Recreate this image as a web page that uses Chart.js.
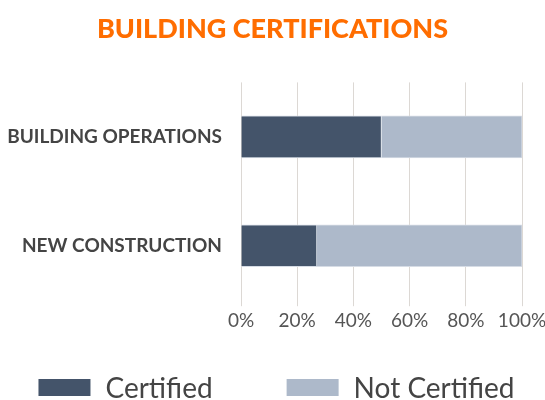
<!DOCTYPE html>
<html>
<head>
<meta charset="utf-8">
<script src="https://cdn.jsdelivr.net/npm/chart.js@4"></script>
<style>
    html, body { margin: 0; padding: 0; background: #ffffff; }
    #wrap { width: 545px; height: 400px; position: relative; }
</style>
</head>
<body>
<div id="wrap"><canvas id="cert-chart"></canvas></div>
<script>
const categories = ["BUILDING OPERATIONS", "NEW CONSTRUCTION"];
const certified = [50, 27];
const notCertified = [50, 73];
const seriesNames = ["Certified", "Not Certified"];
const seriesColors = ["#44546a", "#adb9ca"];

// legend drawn by hand so the wide gap between items doesn't blow up the legend height
const bottomLegend = {
    id: "bottomLegend",
    afterDraw(chart) {
        const c = chart.ctx;
        const boxW = 52, boxH = 17, gap = 15, spacing = 74;
        const cy = 387.5;
        c.save();
        c.font = "28px Lato";
        c.textBaseline = "middle";
        const items = chart.data.datasets.map(ds => ({
            text: ds.label,
            color: ds.backgroundColor,
            w: boxW + gap + c.measureText(ds.label).width
        }));
        const total = items.reduce((s, it) => s + it.w, 0) + spacing * (items.length - 1);
        let x = (chart.width - total) / 2 + 4;
        items.forEach(it => {
            c.fillStyle = it.color;
            c.fillRect(x, cy - boxH / 2, boxW, boxH);
            c.fillStyle = "#444444";
            c.fillText(it.text, x + boxW + gap, cy + 1);
            x += it.w + spacing;
        });
        c.restore();
    }
};

const ctx = document.getElementById("cert-chart").getContext("2d");

new Chart(ctx, {
    type: "bar",
    data: {
        labels: categories,
        datasets: [
            {
                label: seriesNames[0],
                data: certified,
                backgroundColor: seriesColors[0],
                borderColor: "#d6dce5",
                borderWidth: 1,
                barThickness: 42
            },
            {
                label: seriesNames[1],
                data: notCertified,
                backgroundColor: seriesColors[1],
                borderColor: "#d6dce5",
                borderWidth: 1,
                barThickness: 42
            }
        ]
    },
    plugins: [bottomLegend],
    options: {
        indexAxis: "y",
        responsive: true,
        maintainAspectRatio: false,
        animation: false,
        layout: {
            padding: { left: 0, right: 0, top: 0, bottom: 65 }
        },
        plugins: {
            title: {
                display: true,
                text: "BUILDING CERTIFICATIONS",
                color: "#ff6d00",
                font: { family: "Lato", size: 27, weight: "900" },
                padding: { top: 13, bottom: 37 }
            },
            legend: { display: false },
            tooltip: { enabled: false }
        },
        scales: {
            x: {
                stacked: true,
                min: 0,
                max: 100,
                afterFit: function (scale) {
                    scale.paddingRight = 23;
                },
                ticks: {
                    stepSize: 20,
                    color: "#555555",
                    padding: 3,
                    font: { family: "Lato", size: 19 },
                    callback: function (value) {
                        return value + "%";
                    }
                },
                grid: {
                    color: "#dcd8d4",
                    tickLength: 6
                },
                border: { display: false }
            },
            y: {
                stacked: true,
                afterFit: function (scale) {
                    scale.width = 241;
                },
                ticks: {
                    color: "#444444",
                    padding: 11,
                    font: { family: "Lato", size: 19, weight: "bold" }
                },
                grid: { display: false },
                border: { display: false }
            }
        }
    }
});
</script>
</body>
</html>
